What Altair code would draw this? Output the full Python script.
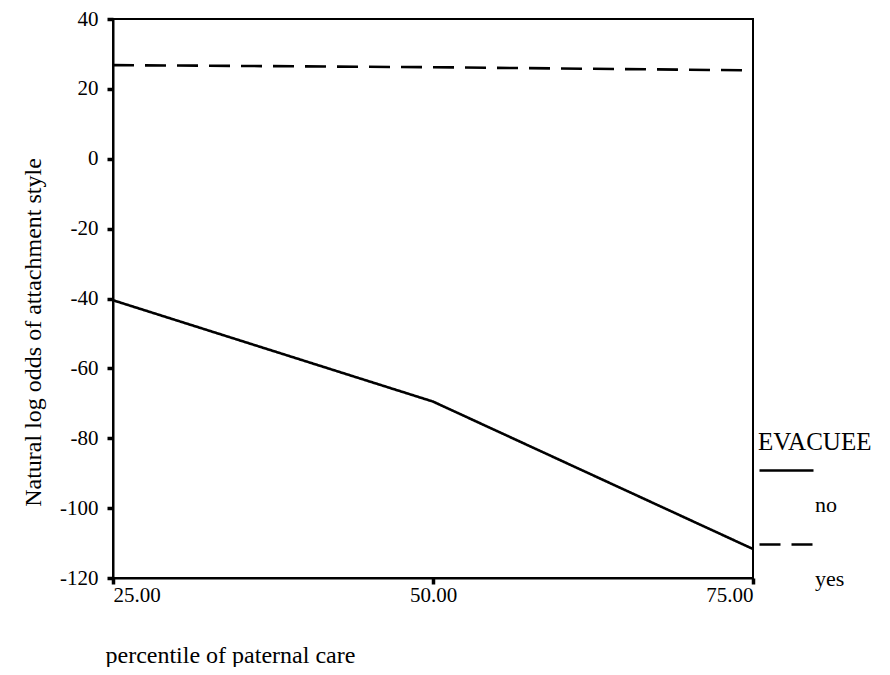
import altair as alt
import pandas as pd

percentile = [25, 50, 75]
no_vals = [-40.5, -69.5, -111.7]
yes_vals = [26.8, 26.2, 25.3]
groups = ["no", "yes"]
x_ticks = [25, 50, 75]
y_ticks = [-120, -100, -80, -60, -40, -20, 0, 20, 40]

rows = []
for g, vals in zip(groups, [no_vals, yes_vals]):
    for p, v in zip(percentile, vals):
        rows.append({"percentile": p, "value": v, "EVACUEE": g})
df = pd.DataFrame(rows)

FONT = "Liberation Serif"

chart = alt.Chart(df).mark_line(color="black", strokeWidth=2.6).encode(
    x=alt.X(
        "percentile:Q",
        scale=alt.Scale(domain=[25, 75], nice=False, zero=False),
        axis=alt.Axis(
            values=x_ticks, format=".2f", title="percentile of paternal care",
            grid=False, domainColor="black", domainWidth=2,
            tickColor="black", tickWidth=3.5, tickSize=6,
            labelFont=FONT, labelFontSize=21, labelColor="black", labelPadding=0,
            titleFont=FONT, titleFontSize=24, titleFontWeight="normal", titleColor="black",
            titleAlign="left", titleBaseline="alphabetic", titleX=-8, titleY=84,
        ),
    ),
    y=alt.Y(
        "value:Q",
        scale=alt.Scale(domain=[-120, 40], nice=False, zero=False),
        axis=alt.Axis(
            values=y_ticks, labelExpr="'' + datum.value",
            title="Natural log odds of attachment style",
            grid=False, domainColor="black", domainWidth=2,
            tickColor="black", tickWidth=3.5, tickSize=6,
            labelFont=FONT, labelFontSize=21, labelColor="black", labelPadding=9,
            titleFont=FONT, titleFontSize=24, titleFontWeight="normal", titleColor="black",
            titleAngle=-90, titleAlign="center", titleBaseline="middle",
            titleX=-80, titleY=313,
        ),
    ),
    strokeDash=alt.StrokeDash(
        "EVACUEE:N",
        scale=alt.Scale(domain=groups, range=[[1, 0], [21, 11]]),
        legend=alt.Legend(
            orient="none", legendX=645, legendY=411, padding=0,
            title="EVACUEE", titleFont=FONT, titleFontSize=25, titleFontWeight="normal",
            titleColor="black", titlePadding=-13,
            symbolType="stroke", symbolSize=2916, symbolStrokeWidth=2.5,
            symbolStrokeColor="black",
            labelFont=FONT, labelFontSize=22, labelColor="black",
            labelExpr="['', datum.label]", labelBaseline="top", labelOffset=0,
            rowPadding=0,
        ),
    ),
).properties(
    width=640, height=559, background="white",
    autosize=alt.AutoSizeParams(type="none"),
    padding={"left": 105, "top": 11, "right": 120, "bottom": 89},
).configure_view(stroke="black", strokeWidth=2)

chart.save("out.html", embed_options={"renderer": "svg", "actions": False})
